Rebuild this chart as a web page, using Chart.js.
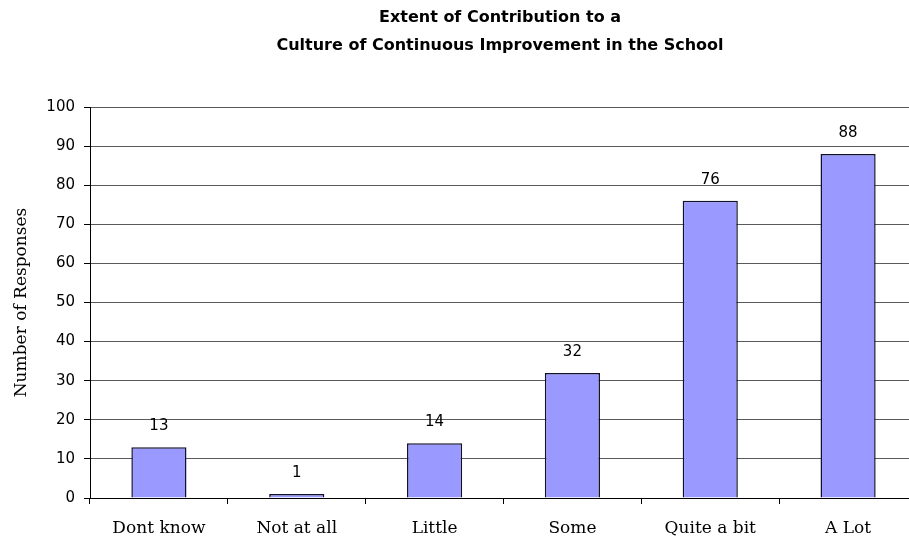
<!DOCTYPE html>
<html>
<head>
<meta charset="utf-8">
<script src="https://cdn.jsdelivr.net/npm/chart.js@4.4.1/dist/chart.umd.min.js"></script>
<style>
  html, body { margin: 0; padding: 0; background: #fff; overflow: hidden; }
  #wrap { width: 1000px; height: 539px; }
</style>
</head>
<body>
<div id="wrap"><canvas id="surveyChart" width="1000" height="539"></canvas></div>
<script>
const titleLines = ["Extent of Contribution to a", "Culture of Continuous Improvement in the School"];
const categories = ["Dont know", "Not at all", "Little", "Some", "Quite a bit", "A Lot"];
const responses = [13, 1, 14, 32, 76, 88];
const yTicks = [0, 10, 20, 30, 40, 50, 60, 70, 80, 90, 100];

// numbers over each bar
const barLabels = {
    id: "barLabels",
    afterDatasetsDraw(chart) {
        const ctx = chart.ctx;
        const meta = chart.getDatasetMeta(0);
        ctx.save();
        ctx.font = "15px 'DejaVu Sans'";
        ctx.fillStyle = "#000";
        ctx.textAlign = "center";
        ctx.textBaseline = "middle";
        meta.data.forEach(function (bar, i) {
            ctx.fillText(String(responses[i]), bar.x, bar.y - 21);
        });
        ctx.restore();
    }
};

document.addEventListener("DOMContentLoaded", function () {
    const canvas = document.getElementById("surveyChart");
    const ctx = canvas.getContext("2d");
    new Chart(ctx, {
        type: "bar",
        data: {
            labels: categories,
            datasets: [{
                data: responses,
                backgroundColor: "#9999FF",
                borderColor: "#10102a",
                borderWidth: 1.5,
                barPercentage: 0.4,
                categoryPercentage: 1
            }]
        },
        options: {
            responsive: false,
            animation: false,
            devicePixelRatio: 1,
            layout: { padding: 0 },
            plugins: {
                legend: { display: false },
                tooltip: { enabled: false },
                title: {
                    display: true,
                    text: titleLines,
                    color: "#000",
                    font: { family: "'DejaVu Sans'", size: 16, weight: "bold", lineHeight: "28px" },
                    padding: { top: 4, bottom: 47 }
                }
            },
            scales: {
                x: {
                    grid: { offset: true, drawOnChartArea: false, tickLength: 6, tickColor: "#000" },
                    border: { color: "#000", width: 1 },
                    ticks: { color: "#000", padding: 14, font: { family: "'DejaVu Serif'", size: 17 } },
                    afterFit: function (scale) { scale.height = 41; }
                },
                y: {
                    min: 0,
                    max: 100,
                    afterBuildTicks: function (scale) {
                        scale.ticks = yTicks.map(function (v) { return { value: v }; });
                    },
                    grid: { color: "#5a5a5a", tickColor: "#000", tickLength: 6 },
                    border: { color: "#000", width: 1 },
                    ticks: { color: "#000", padding: 9, font: { family: "'DejaVu Sans'", size: 15 } },
                    title: {
                        display: true,
                        text: "Number of Responses",
                        color: "#000",
                        font: { family: "'DejaVu Serif'", size: 17 },
                        padding: { top: 11, bottom: 0 }
                    },
                    afterFit: function (scale) { scale.width = 90; }
                },
                // empty right axis, only reserves the space past the image edge
                yRight: {
                    position: "right",
                    min: 0,
                    max: 100,
                    grid: { display: false },
                    border: { display: false },
                    ticks: { display: false },
                    afterFit: function (scale) { scale.width = 83; }
                }
            }
        },
        plugins: [barLabels]
    });
});
</script>
</body>
</html>
